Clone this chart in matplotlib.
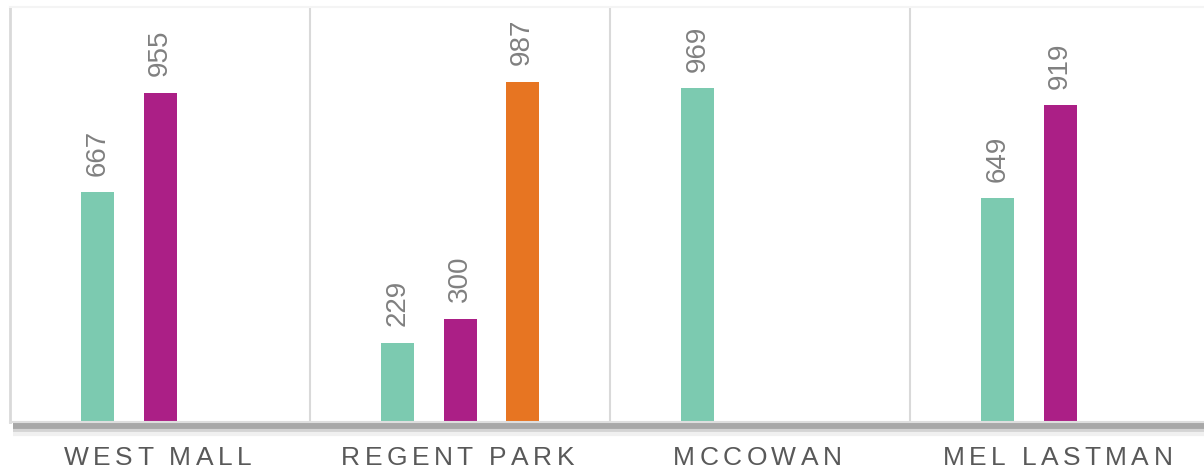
import matplotlib.pyplot as plt
import matplotlib.transforms as mtransforms
import numpy as np

plt.rcParams['font.family'] = ['Liberation Sans', 'DejaVu Sans']

# Data
categories = ['WEST MALL', 'REGENT PARK', 'MCCOWAN', 'MEL LASTMAN']
series_1 = [667, 229, 969, 649]
series_2 = [955, 300, None, 919]
series_3 = [None, 987, None, None]
colors = ['#7ccab0', '#ab1f86', '#e77522']

fig = plt.figure(figsize=(12.04, 4.71), dpi=100)
W, H = 1204, 471
# plot area runs a little past the right edge of the canvas
ax = fig.add_axes([10 / W, 49 / H, 1200 / W, 415 / H])

x = np.arange(len(categories))
offsets = [-0.207, 0.0, 0.207]
bar_w = 0.11

for series, off, col in zip([series_1, series_2, series_3], offsets, colors):
    for xi, v in zip(x, series):
        if v is None:
            continue
        ax.bar(xi + off, v, width=bar_w, color=col, zorder=3)
        ax.annotate(str(v), (xi + off, v), xytext=(0, 12), textcoords='offset points',
                    rotation=90, ha='center', va='bottom', fontsize=20,
                    color='#808080')

ax.set_xlim(-0.5, len(categories) - 0.5)
ax.set_ylim(0, 1205)
ax.set_xticks([])
ax.set_yticks([])

for s in ['right', 'bottom']:
    ax.spines[s].set_visible(False)
ax.spines['left'].set_color('#d9d9d9')
ax.spines['left'].set_linewidth(2)
ax.spines['top'].set_color('#f4f4f4')
ax.spines['top'].set_linewidth(1.5)

# separators between groups
for xs in x[:-1] + 0.5:
    ax.axvline(xs, color='#d9d9d9', linewidth=1.5, zorder=1)

# baseline with a soft drop shadow
ax.axhline(0, color='#dedede', linewidth=1.5, zorder=4, clip_on=False)
trans = ax.get_xaxis_transform()
shadow = [(-4.0, '#a8a8a8', 5.5), (-8.5, '#d4d4d4', 3), (-12, '#f0f0f0', 3)]
for dy, c, lw in shadow:
    t = trans + mtransforms.ScaledTranslation(0, dy / 100, fig.dpi_scale_trans)
    ax.plot([-0.49, len(categories)], [0, 0], color=c, linewidth=lw,
            transform=t, clip_on=False, zorder=2, solid_capstyle='butt')

# category names with wide letter spacing
fig.canvas.draw()
renderer = fig.canvas.get_renderer()
tracking = 4.4  # extra pixels between letters
for xi, name in zip(x, categories):
    widths = []
    for ch in name:
        t = fig.text(0, 0, ch if ch != ' ' else 'n', fontsize=19, color='#595959')
        bb = t.get_window_extent(renderer)
        widths.append(bb.width * (0.278 / 0.556 if ch == ' ' else 1))
        t.remove()
    total = sum(widths) + tracking * (len(name) - 1)
    cx = ax.transData.transform((xi, 0))[0] - 2.5
    px = cx - total / 2
    for ch, w in zip(name, widths):
        if ch != ' ':
            fig.text(px / W, 6 / H, ch, fontsize=19, color='#595959',
                     ha='left', va='baseline')
        px += w + tracking

fig.savefig('out.png', dpi=100)
